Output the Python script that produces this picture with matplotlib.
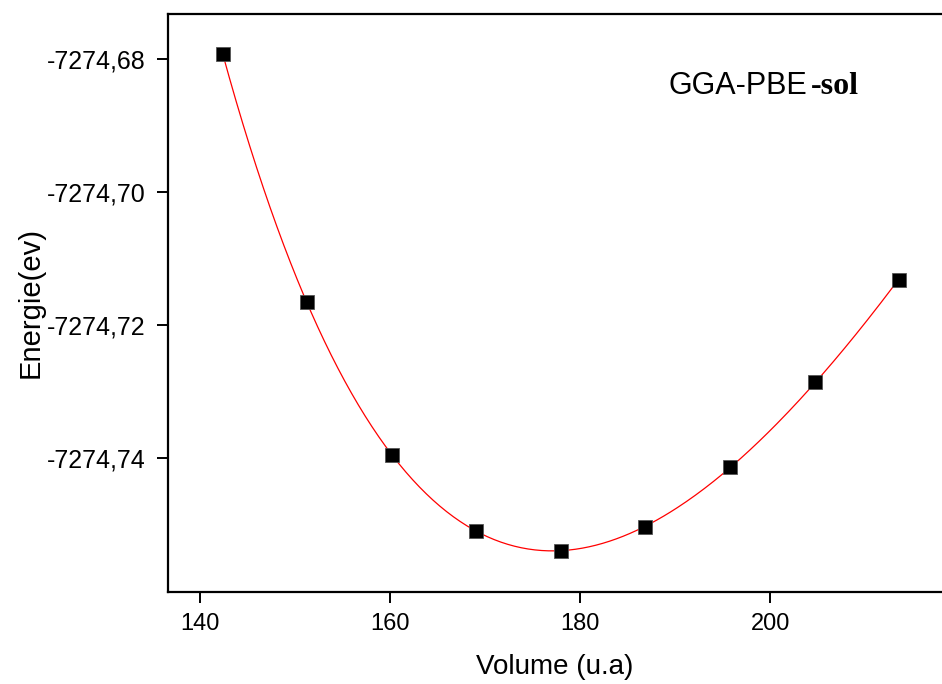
import numpy as np
import matplotlib
matplotlib.use('Agg')
import matplotlib.pyplot as plt
from matplotlib.ticker import FuncFormatter

volume = [142.35, 151.25, 160.15, 169.05, 177.95, 186.85, 195.75, 204.65, 213.55]
energy = [-7274.6793, -7274.7166, -7274.7395, -7274.7510, -7274.7539,
          -7274.7504, -7274.7413, -7274.7286, -7274.7132]
x_ticks = [140, 160, 180, 200]
y_ticks = [-7274.68, -7274.70, -7274.72, -7274.74]

plt.rcParams['font.family'] = ['Liberation Sans', 'DejaVu Sans']

# Birch-Murnaghan style fit: cubic polynomial in V^(-2/3)
v = np.array(volume)
e = np.array(energy)
coef = np.polyfit(v ** (-2 / 3), e - e.mean(), 3)
v_fit = np.linspace(v.min(), v.max(), 300)
e_fit = np.polyval(coef, v_fit ** (-2 / 3)) + e.mean()

fig = plt.figure(figsize=(9.42, 6.84), dpi=100)
ax = fig.add_axes([168 / 942, 92 / 684, 774 / 942, 578 / 684])

ax.plot(v_fit, e_fit, color='red', lw=0.9, zorder=2)
ax.plot(v, e, ls='none', marker='s', ms=9.5, mfc='black', mec='#555555',
        mew=0.6, zorder=3)

ax.set_xlim(136.6, 218.07)
ax.set_ylim(-7274.7601, -7274.6733)
ax.set_xticks(x_ticks)
ax.set_yticks(y_ticks)
ax.yaxis.set_major_formatter(FuncFormatter(lambda y, p: f'{y:.2f}'.replace('.', ',')))

for s in ['left', 'top', 'bottom']:
    ax.spines[s].set_linewidth(1.6)
ax.spines['right'].set_visible(False)
ax.tick_params(direction='out', length=8, width=1.4)
ax.tick_params(axis='x', labelsize=17, pad=7)
ax.tick_params(axis='y', labelsize=18, pad=8)

ax.set_xlabel('Volume (u.a)', fontsize=20, labelpad=14)
ax.set_ylabel('Energie(ev)', fontsize=21, labelpad=2)

ax.text(0.646, 0.862, 'GGA-PBE', transform=ax.transAxes, fontsize=22,
        ha='left', va='baseline')
ax.text(0.8307, 0.862, '-sol', transform=ax.transAxes, fontsize=23,
        family='Liberation Serif', weight='bold', ha='left', va='baseline')

fig.savefig('out.png', dpi=100)
